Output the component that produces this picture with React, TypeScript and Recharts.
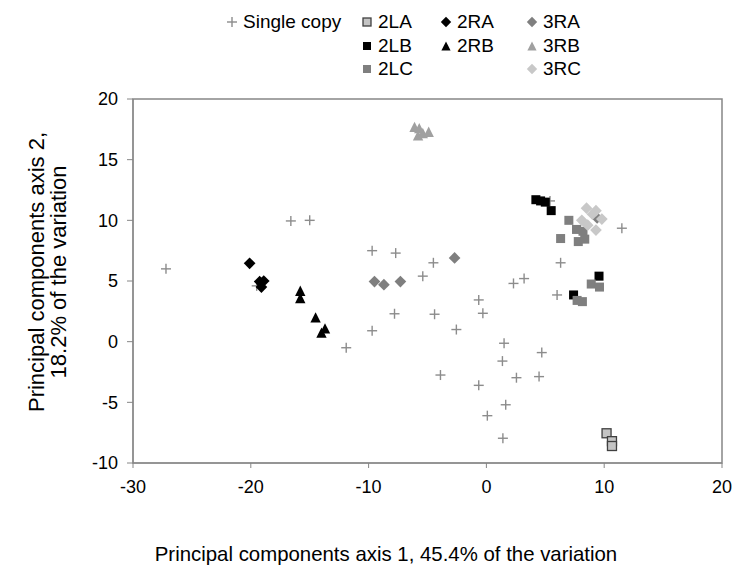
import React from "react"
import { ScatterChart, Scatter, XAxis, YAxis, ReferenceArea } from "recharts"

const FONT = "'Liberation Sans', Arial, sans-serif"

// [x, y] pairs
const singleCopy: [number, number][] = [
  [-27.2, 6.0], [-16.6, 9.95], [-15.0, 10.0], [-9.7, 7.5], [-7.7, 7.3], [-19.5, 4.6],
  [-11.9, -0.5], [-9.7, 0.9], [-7.8, 2.3], [-5.4, 5.4], [-4.5, 6.5], [5.4, 11.6],
  [11.5, 9.35], [6.3, 6.5], [3.2, 5.2], [2.3, 4.8], [6.0, 3.85], [-0.65, 3.44],
  [-0.3, 2.34], [-4.4, 2.26], [-2.55, 1.0], [1.5, -0.13], [1.36, -1.6], [4.7, -0.9],
  [-3.9, -2.75], [-0.65, -3.6], [2.55, -2.97], [4.47, -2.88], [1.64, -5.2], [0.08, -6.1],
  [1.4, -7.96],
]
const s2LA: [number, number][] = [[10.2, -7.55], [10.66, -8.2], [10.66, -8.6]]
const s2LB: [number, number][] = [[4.2, 11.7], [4.6, 11.6], [5.0, 11.5], [5.5, 10.8], [9.56, 5.4], [7.4, 3.85]]
const s2LC: [number, number][] = [
  [7.0, 10.0], [6.3, 8.5], [7.65, 9.25], [7.8, 8.25], [8.35, 8.45], [8.2, 9.1],
  [8.9, 4.75], [9.6, 4.5], [7.7, 3.4], [8.15, 3.3],
]
const s2RA: [number, number][] = [[-20.1, 6.46], [-19.25, 4.95], [-18.9, 5.0], [-19.1, 4.5]]
const s2RB: [number, number][] = [[-15.8, 4.2], [-15.8, 3.6], [-14.5, 2.0], [-13.7, 1.1], [-14.0, 0.75]]
const s3RA: [number, number][] = [[-9.5, 4.95], [-8.7, 4.7], [-7.3, 4.95], [-2.7, 6.9], [9.4, 10.2]]
const s3RB: [number, number][] = [[-6.1, 17.7], [-5.7, 17.6], [-5.4, 17.2], [-5.8, 17.0], [-4.9, 17.3]]
const s3RC: [number, number][] = [
  [8.5, 11.0], [9.3, 10.8], [9.8, 10.1], [8.1, 10.0], [8.6, 9.6], [9.3, 9.2], [9.0, 10.5],
]

const xTicks = [-30, -20, -10, 0, 10, 20]
const yTicks = [-10, -5, 0, 5, 10, 15, 20]

type Kind = "plus" | "square" | "diamond" | "triangle"

const series = [
  { name: "Single copy", data: singleCopy, kind: "plus" as Kind, color: "#8c8c8c" },
  { name: "2LA", data: s2LA, kind: "square" as Kind, color: "#c4c4c4", stroke: "#404040" },
  { name: "2LB", data: s2LB, kind: "square" as Kind, color: "#000000" },
  { name: "2LC", data: s2LC, kind: "square" as Kind, color: "#7f7f7f" },
  { name: "2RA", data: s2RA, kind: "diamond" as Kind, color: "#000000" },
  { name: "2RB", data: s2RB, kind: "triangle" as Kind, color: "#000000" },
  { name: "3RA", data: s3RA, kind: "diamond" as Kind, color: "#7f7f7f" },
  { name: "3RB", data: s3RB, kind: "triangle" as Kind, color: "#a0a0a0" },
  { name: "3RC", data: s3RC, kind: "diamond" as Kind, color: "#c8c8c8" },
]

function marker(kind: Kind, color: string, cx: number, cy: number, r: number, stroke?: string) {
  if (kind === "plus") {
    return (
      <g>
        <line x1={cx - r} x2={cx + r} y1={cy} y2={cy} stroke={color} strokeWidth={1.4} />
        <line x1={cx} x2={cx} y1={cy - r} y2={cy + r} stroke={color} strokeWidth={1.4} />
      </g>
    )
  }
  if (kind === "square") {
    return (
      <rect x={cx - r} y={cy - r} width={2 * r} height={2 * r} fill={color}
        stroke={stroke ?? "none"} strokeWidth={stroke ? 1.3 : 0} />
    )
  }
  if (kind === "diamond") {
    const d = r * 1.3
    return <polygon points={`${cx},${cy - d} ${cx + d},${cy} ${cx},${cy + d} ${cx - d},${cy}`} fill={color} />
  }
  const h = r * 1.15
  return <polygon points={`${cx},${cy - h} ${cx + h},${cy + h} ${cx - h},${cy + h}`} fill={color} />
}

const legendRows = [
  [{ col: 0, i: 0 }, { col: 1, i: 1 }, { col: 2, i: 4 }, { col: 3, i: 6 }],
  [{ col: 1, i: 2 }, { col: 2, i: 5 }, { col: 3, i: 7 }],
  [{ col: 1, i: 3 }, { col: 3, i: 8 }],
]
const legendCols = [225, 360, 439, 525]

function Legend() {
  return (
    <div style={{ position: "absolute", left: 0, top: 0, width: 735, height: 85 }}>
      {legendRows.map((row, r) =>
        row.map(({ col, i }) => {
          const s = series[i]
          return (
            <div key={s.name} style={{
              position: "absolute", left: legendCols[col], top: 10 + r * 23.5, height: 24,
              display: "flex", alignItems: "center", fontFamily: FONT, fontSize: 19, color: "#000",
              whiteSpace: "nowrap",
            }}>
              <svg width={14} height={14} style={{ marginRight: 4 }}>
                {marker(s.kind, s.color, 7, 7, s.kind === "plus" ? 5 : 4, s.stroke)}
              </svg>
              {s.name}
            </div>
          )
        })
      )}
    </div>
  )
}

const YTitle = () => (
  <g fontFamily={FONT} fontSize={22} fill="#000">
    <text x={36} y={272} transform="rotate(-90 36 272)" textAnchor="middle" dominantBaseline="central">
      Principal components axis 2,
    </text>
    <text x={58} y={272} transform="rotate(-90 58 272)" textAnchor="middle" dominantBaseline="central">
      18.2% of the variation
    </text>
  </g>
)

const XTitle = () => (
  <text x={386} y={554} fontFamily={FONT} fontSize={20.4} fill="#000" textAnchor="middle" dominantBaseline="central">
    Principal components axis 1, 45.4% of the variation
  </text>
)

export default function App() {
  const tick = { fontSize: 18, fill: "#000", fontFamily: FONT }
  return (
    <div style={{ position: "absolute", left: 0, top: 0, width: 735, height: 567, background: "#fff" }}>
      <ScatterChart width={735} height={567} margin={{ top: 99, right: 13, bottom: 0, left: 0 }}>
        <XAxis type="number" dataKey="x" domain={[-30, 20]} ticks={xTicks} height={104}
          axisLine={{ stroke: "#868686" }} tickLine={{ stroke: "#868686" }} tickSize={5} tickMargin={12}
          tick={tick} label={{ content: XTitle }} allowDataOverflow />
        <YAxis type="number" dataKey="y" domain={[-10, 20]} ticks={yTicks} width={133}
          axisLine={{ stroke: "#868686" }} tickLine={{ stroke: "#868686" }} tickSize={6} tickMargin={9}
          tick={tick} label={{ content: YTitle }} allowDataOverflow />
        <ReferenceArea x1={-30} x2={20} y1={-10} y2={20} fill="none" stroke="#868686" strokeWidth={1.5} />
        {series.map((s) => (
          <Scatter key={s.name} name={s.name} data={s.data.map(([x, y]) => ({ x, y }))}
            isAnimationActive={false}
            shape={(p: any) => marker(s.kind, s.color, p.cx, p.cy, s.kind === "plus" ? 5 : 4.5, s.stroke)} />
        ))}
      </ScatterChart>
      <Legend />
    </div>
  )
}
